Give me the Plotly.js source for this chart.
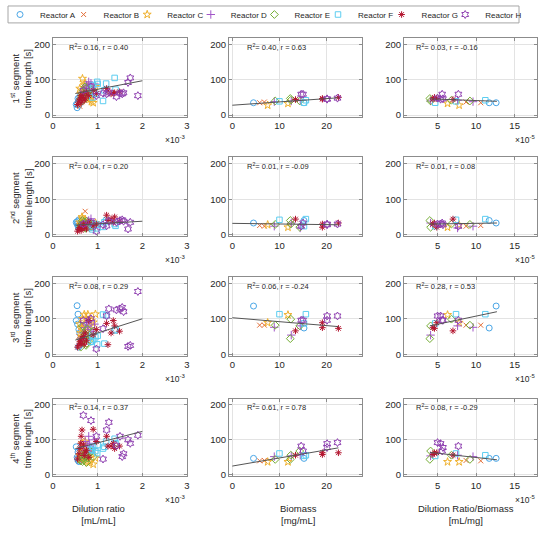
<!DOCTYPE html>
<html><head><meta charset="utf-8">
<script src="https://cdn.plot.ly/plotly-3.0.1.min.js"></script>
<style>html,body{margin:0;padding:0;background:#fff}#chart{width:550px;height:533px}</style>
</head><body><div id="chart"></div>
<script>
// ---------------- DATA ----------------
const reactorNames = ['Reactor A','Reactor B','Reactor C','Reactor D','Reactor E','Reactor F','Reactor G','Reactor H'];

// Column 1: per-sample dilution ratio (x10^-3 mL/mL) and segment lengths [s] (rows 1..4)
const dilA = [0.54,0.56,0.55,0.57,0.60,0.62,0.58,0.65,0.52,0.60,0.70,0.85];
const segA = [[21,47,33,40,52,45,28,60,30,38,55,72],
              [30,25,38,20,28,33,42,22,35,18,30,26],
              [137,113,85,20,60,45,70,38,95,25,55,35],
              [50,65,45,40,58,70,38,55,80,47,62,75]];
const dilB = [0.58,0.62,0.65,0.70,0.72,0.75,0.60,0.68,0.78,0.80];
const segB = [[30,45,38,55,62,48,25,70,42,58],
              [25,30,35,22,66,40,28,45,32,20],
              [50,75,85,40,95,70,30,60,105,45],
              [55,60,45,70,65,50,40,75,58,48]];
const dilC = [0.60,0.62,0.66,0.70,0.75,0.78,0.86,0.90,0.95,0.65,0.72,0.83];
const segC = [[75,60,103,85,48,55,38,35,80,70,90,45],
              [35,28,45,40,22,30,25,20,33,50,38,26],
              [85,60,100,112,75,112,95,90,113,70,55,80],
              [55,45,90,70,40,35,60,30,48,65,95,38]];
const dilD = [0.68,0.72,0.75,0.80,0.82,0.85,0.90,0.70,0.78,0.93];
const segD = [[65,75,85,94,80,90,70,55,60,88],
              [30,35,25,40,28,45,32,22,38,30],
              [60,75,90,55,95,70,65,45,80,85],
              [80,95,70,110,90,65,75,60,85,100]];
const dilE = [0.62,0.65,0.68,0.70,0.72,0.75,0.78,0.82,0.85,0.90,0.66,0.74];
const segE = [[45,55,70,60,80,50,65,58,72,62,40,75],
              [25,30,35,20,28,38,22,33,25,30,40,18],
              [20,35,45,60,55,30,70,40,50,65,80,25],
              [40,50,45,55,60,35,48,70,65,52,38,58]];
const dilF = [0.85,0.90,0.95,0.99,1.00,1.12,1.15,1.19,1.38,1.40,0.88];
const segF = [[75,85,60,94,88,40,70,89,105,72,50],
              [20,25,30,18,28,22,35,40,30,25,15],
              [35,40,48,28,52,112,30,110,67,70,52],
              [72,80,68,62,85,75,80,95,103,90,70]];
const dilG = [0.55,0.58,0.60,0.62,0.63,0.65,0.68,0.70,0.72,0.75,0.80,0.90,0.97,1.20,1.23,1.30,1.35,1.38,1.49];
const segG = [[30,40,45,55,35,50,60,42,48,65,55,70,61,75,68,60,62,63,66],
              [10,15,20,25,12,18,30,22,28,16,35,25,30,55,40,45,35,50,38],
              [20,25,35,40,30,45,50,28,60,38,95,55,70,87,27,60,95,80,65],
              [45,60,75,90,110,128,85,55,65,70,50,130,95,110,82,82,90,75,82]];
const dilH = [0.68,0.85,0.97,1.12,1.20,1.25,1.42,1.50,1.55,1.58,1.68,1.73,1.90];
const segH = [[70,80,55,62,60,65,52,62,60,63,92,105,55],
              [30,35,10,28,25,38,35,40,42,38,16,35,null],
              [95,100,15,72,108,128,125,128,132,120,22,25,177],
              [170,155,110,45,128,150,83,110,52,60,100,90,113]];

// Columns 2 and 3: per-run biomass (mg/mL), dilution ratio / biomass (x10^-5 mL/mg), segment lengths [s]
const bioA = [4.5,15.2];            const ratA = [12.6,11.7];
const runA = [[35,35],[33,40],[136,74],[47,47]];
const bioB = [5.8,6.8];             const ratB = [10.6,8.7];
const runB = [[35,37],[26,24],[82,82],[40,41]];
const bioC = [7.5,11.8];            const ratC = [7.8,6.3];
const runC = [[28,33],[28,21],[89,111],[37,37]];
const bioD = [12.5,8.9,14.4];       const ratD = [4.1,9.6,7.6];
const runD = [[40,38,42],[33,24,19],[54,76,80],[54,52,56]];
const bioE = [9.1,12.3,14.3,12.4];  const ratE = [9.2,4.0,4.1,6.8];
const runE = [[40,47,40,42],[29,40,21,30],[82,44,80,99],[44,44,68,56]];
const bioF = [10.0,15.6,15.2];      const ratF = [7.4,11.2,4.7];
const runF = [[39,42,35],[42,44,24],[113,113,87],[61,56,54]];
const bioG = [13.4,19.1,22.5,19.1]; const ratG = [7.0,4.9,4.6,4.4];
const runG = [[44,47,50,45],[44,21,33,30],[66,89,73,75],[56,63,63,58]];
const bioH = [15.0,14.6,20.1,22.3,20.1]; const ratH = [5.6,7.7,5.4,5.0,5.7];
const runH = [[59,59,45,48,46],[33,24,30,30,28],[96,96,108,108,96],[68,82,89,92,78]];

// Fitted trend lines per panel [x0, y0, x1, y1], rows 1..4, columns 1..3
const fitCol1 = [[0.5,61,2.0,97],[0.5,27,2.0,38],[0.5,40,2.0,100],[0.5,75,2.0,124]];
const fitCol2 = [[0,28,22.5,49],[0,32,22.5,28],[0,103,22.5,78],[0,25,22.5,77]];
const fitCol3 = [[4.0,46,12.7,39],[4.0,30,12.7,33],[4.0,80,12.7,120],[4.0,64,12.7,43]];

const statText = [
  ['R<sup>2</sup>= 0.16, r = 0.40','R<sup>2</sup>= 0.40, r = 0.63','R<sup>2</sup>= 0.03, r = -0.16'],
  ['R<sup>2</sup>= 0.04, r = 0.20','R<sup>2</sup>= 0.01, r = -0.09','R<sup>2</sup>= 0.01, r = 0.08'],
  ['R<sup>2</sup>= 0.08, r = 0.29','R<sup>2</sup>= 0.06, r = -0.24','R<sup>2</sup>= 0.28, r = 0.53'],
  ['R<sup>2</sup>= 0.14, r = 0.37','R<sup>2</sup>= 0.61, r = 0.78','R<sup>2</sup>= 0.08, r = -0.29']];
const rowTitles = ['1<sup>st</sup> segment<br>time length [s]','2<sup>nd</sup> segment<br>time length [s]',
                   '3<sup>rd</sup> segment<br>time length [s]','4<sup>th</sup> segment<br>time length [s]'];
const colTitles = ['Dilution ratio<br>[mL/mL]','Biomass<br>[mg/mL]','Dilution Ratio/Biomass<br>[mL/mg]'];
const expLabels = ['\u00d710<sup>-3</sup>', null, '\u00d710<sup>-5</sup>'];
const xTicks = [[0,1,2,3],[0,10,20],[5,10,15]];
const yTicks = [0,100,200];

// ---------------- STYLE ----------------
const colors  = ['#4aa6e6','#e4703a','#efb02c','#a256c8','#74ad34','#5ccdf0','#b3152f','#8e3fb0'];
const symbols = ['circle-open','x-thin-open','star-open','cross-thin-open','diamond-open','square-open','asterisk-open','hexagram-open'];
const msizes  = [6,5,6,6,6,5.5,5.5,6];
const FONT = 'Liberation Sans, Arial, sans-serif';
const W = 550, H = 533;
const colPx = [[53,187],[229,362],[404,537]];
const rowPx = [[36,115],[156,235],[276,355],[398,476]];
const xRanges = [[0,3],[-0.7,27.5],[0.65,17.9]];
const yRange = [-4,218];

const reactors = [
  {dil:dilA, seg:segA, bio:bioA, rat:ratA, run:runA},
  {dil:dilB, seg:segB, bio:bioB, rat:ratB, run:runB},
  {dil:dilC, seg:segC, bio:bioC, rat:ratC, run:runC},
  {dil:dilD, seg:segD, bio:bioD, rat:ratD, run:runD},
  {dil:dilE, seg:segE, bio:bioE, rat:ratE, run:runE},
  {dil:dilF, seg:segF, bio:bioF, rat:ratF, run:runF},
  {dil:dilG, seg:segG, bio:bioG, rat:ratG, run:runG},
  {dil:dilH, seg:segH, bio:bioH, rat:ratH, run:runH}];
const fits = [fitCol1, fitCol2, fitCol3];

const px2x = p => p / W;
const px2y = p => 1 - p / H;
const axSuffix = (r, c) => { const n = r * 3 + c + 1; return n === 1 ? '' : String(n); };

const traces = [];
const layout = {
  width: W, height: H, margin: {l:0, r:0, t:0, b:0},
  paper_bgcolor: '#fff', plot_bgcolor: '#fff',
  font: {family: FONT, color: '#262626'},
  showlegend: true,
  legend: {orientation:'h', x: px2x(10), y: px2y(-2), xanchor:'left', yanchor:'top',
           font:{size:8, family:FONT, color:'#262626'}, bgcolor:'rgba(0,0,0,0)',
           borderwidth:0, itemwidth:30, indentation:-10,
           entrywidth:28.6, entrywidthmode:'pixels', tracegroupgap:0},
  annotations: [], shapes: []
};

layout.shapes.push({type:'rect', xref:'paper', yref:'paper',
  x0: px2x(8), x1: px2x(519), y0: px2y(21), y1: px2y(4),
  line:{color:'#a6a6a6', width:1}, fillcolor:'rgba(0,0,0,0)', layer:'below'});

for (let r = 0; r < 4; r++) {
  for (let c = 0; c < 3; c++) {
    const s = axSuffix(r, c);
    const axStyle = {
      showgrid:true, gridcolor:'#e3e3e3', gridwidth:1, zeroline:false,
      showline:true, mirror:'ticks', linecolor:'#8c8c8c', linewidth:1,
      ticks:'inside', ticklen:3, tickcolor:'#8c8c8c',
      tickfont:{size:9.5, family:FONT, color:'#262626'}, fixedrange:true
    };
    layout['xaxis' + s] = Object.assign({}, axStyle, {
      domain:[px2x(colPx[c][0]), px2x(colPx[c][1])], anchor:'y' + s,
      range:xRanges[c], tickmode:'array', tickvals:xTicks[c]});
    layout['yaxis' + s] = Object.assign({}, axStyle, {
      domain:[px2y(rowPx[r][1]), px2y(rowPx[r][0])], anchor:'x' + s,
      range:yRange, tickmode:'array', tickvals:yTicks});

    reactors.forEach((rc, k) => {
      const xs = c === 0 ? rc.dil : (c === 1 ? rc.bio : rc.rat);
      const ys = c === 0 ? rc.seg[r] : rc.run[r];
      traces.push({
        type:'scatter', mode:'markers', x:xs, y:ys, xaxis:'x' + s, yaxis:'y' + s,
        name: reactorNames[k], legendgroup: reactorNames[k],
        showlegend: (r === 0 && c === 0),
        marker:{symbol:symbols[k], size:msizes[k], color:colors[k],
                line:{color:colors[k], width:1}},
        hoverinfo:'skip'
      });
    });

    const f = fits[c][r];
    traces.push({type:'scatter', mode:'lines', x:[f[0], f[2]], y:[f[1], f[3]],
      xaxis:'x' + s, yaxis:'y' + s, showlegend:false, hoverinfo:'skip',
      line:{color:'#555555', width:1}});

    const labX = [67, 245, 414][c];
    layout.annotations.push({xref:'paper', yref:'paper', x:px2x(labX), y:px2y(rowPx[r][0] + 9),
      xanchor:'left', yanchor:'middle', text:statText[r][c], showarrow:false,
      font:{size:7.5, family:FONT, color:'#262626'}});

    if (expLabels[c]) {
      layout.annotations.push({xref:'paper', yref:'paper', x:px2x([175, 0, 525][c]),
        y:px2y(rowPx[r][1] + 23), xanchor:'center', yanchor:'middle', text:expLabels[c],
        showarrow:false, font:{size:8.5, family:FONT, color:'#262626'}});
    }
  }
  layout.annotations.push({xref:'paper', yref:'paper', x:px2x(21),
    y:px2y((rowPx[r][0] + rowPx[r][1]) / 2 + 2), xanchor:'center', yanchor:'middle',
    textangle:-90, text:rowTitles[r], showarrow:false,
    font:{size:9.5, family:FONT, color:'#262626'}});
}
[98, 298, 466].forEach((cx, c) => {
  layout.annotations.push({xref:'paper', yref:'paper', x:px2x(cx), y:px2y(514),
    xanchor:'center', yanchor:'middle', text:colTitles[c], showarrow:false,
    font:{size:9.5, family:FONT, color:'#262626'}});
});

Plotly.newPlot('chart', traces, layout, {displayModeBar:false, staticPlot:true}).then(gd => {
  // let the last legend label run past the computed entry width instead of being clipped
  gd.querySelectorAll('clipPath[id^="legend"] rect').forEach(rc => {
    const w = parseFloat(rc.getAttribute('width')) || 0;
    rc.setAttribute('width', w + 30);
  });
});
</script>
</body></html>
